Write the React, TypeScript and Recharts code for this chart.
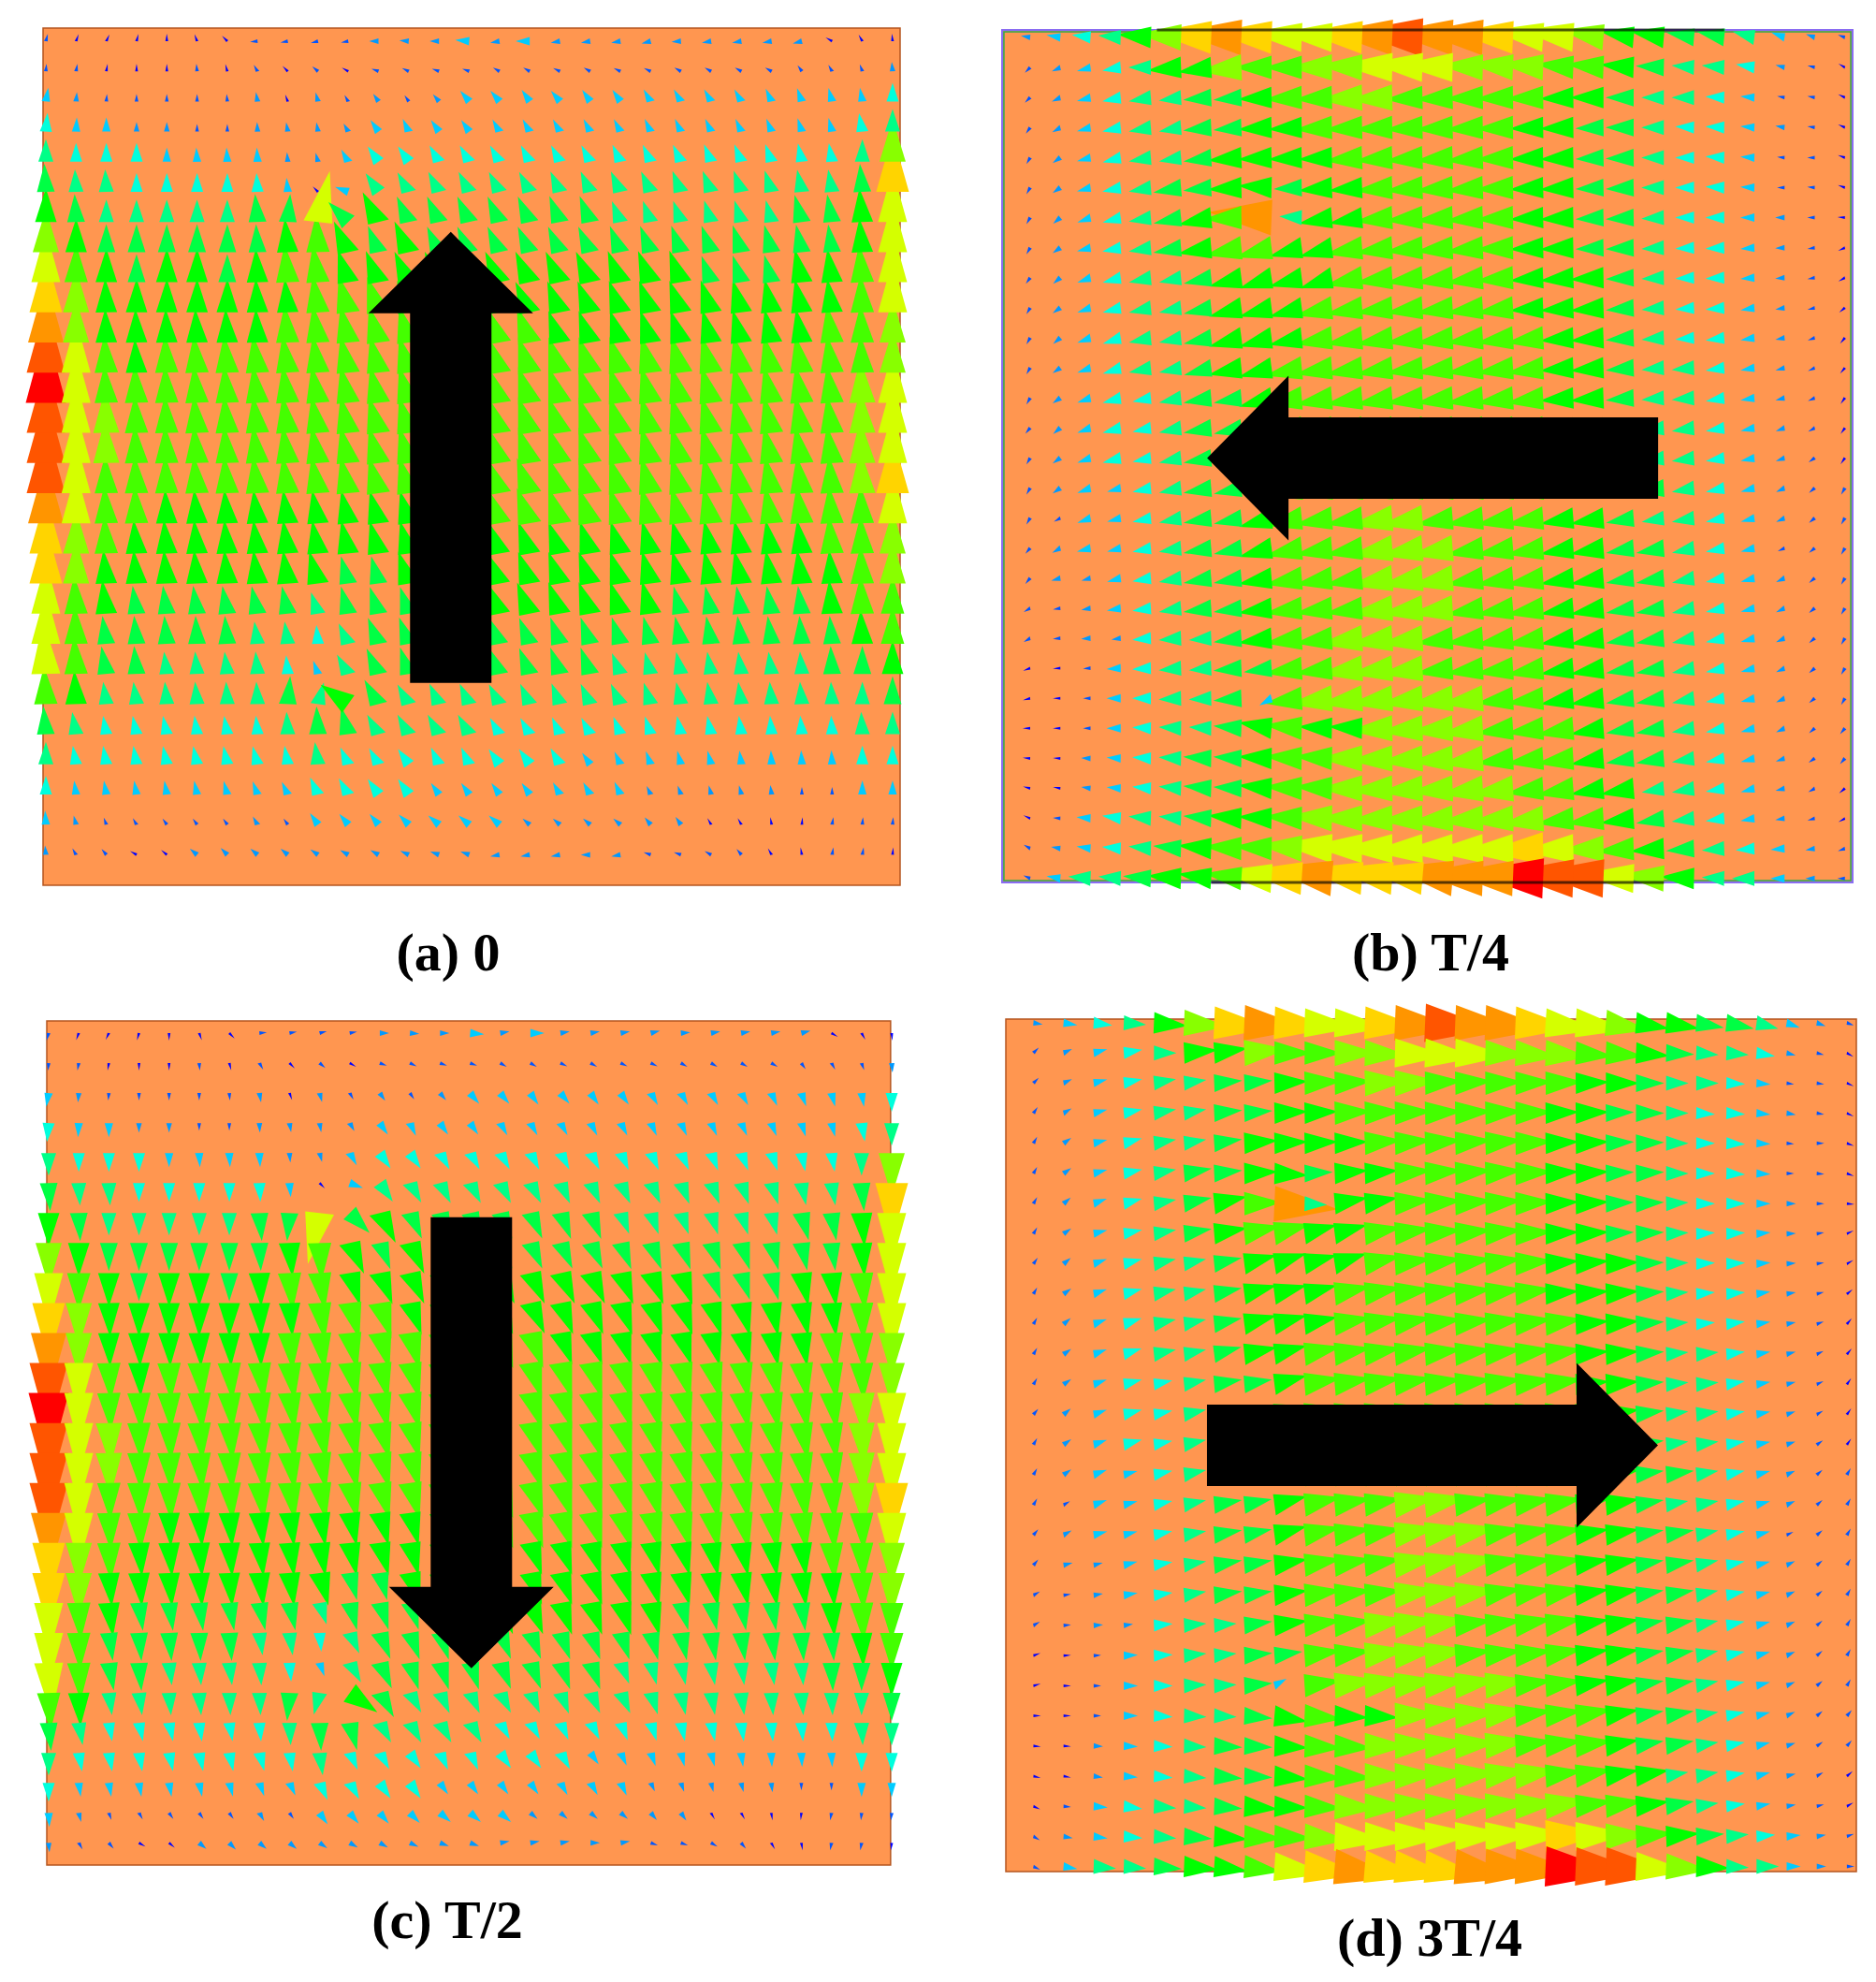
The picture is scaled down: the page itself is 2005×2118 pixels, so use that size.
import { ScatterChart, Scatter, XAxis, YAxis, ReferenceArea } from 'recharts';

// contour band of each arrow, one hex digit per grid cell (0 = blue ... e = red)
// vertical flow panels (a, c): columns 0-14 and columns 15-28
const levelsVerticalLeft = [
  '100000011112223', '110001010101111', '321111120212123', '433221122223333',
  '544433332234444', '655444443035555', '765555566a67666', '976666667876766',
  'a87677678877777', 'b97777777888777', 'c97777778888888', 'da8788888888888',
  'ea8888888888888', 'da9888888888888', 'da9888888888888', 'da8888888888888',
  'ca8877777777777', 'b98777777777777', 'b97777777766777', 'a87666666566666',
  'a86666655456666', 'a86655554356666', '875555556576555', '654444445665555',
  '544444444544444', '433333333444433', '321111121333333', '211002222222222',
];
const levelsVerticalRight = [
  '23222222222000', '11111111111112', '33333333333334', '33333333333345',
  '44444444444459', '5555555555556b', '6666555555667a', '6666666666667a',
  '7777777666778a', '7777777777778a', '88777777777889', '88888888888889',
  '8888888888889a', '8888888888889a', '8888888888889a', '8888888888889b',
  '8888888888888a', '77777777777889', '77777777777789', '77777766666788',
  '66666666666678', '66665555555667', '55555555555556', '44444444444455',
  '44433333333344', '33333222221133', '32222220000111', '22222111100110',
];

// horizontal flow panels (b, d): columns 0-14 and columns 15-27
const levelsHorizontalLeft = [
  '234579bcbaabcdc', '123457798899aaa', '123455667889988', '123455667788888',
  '123455677778888', '123456677677888', '12345678c577888', '123456788778888',
  '123455677778888', '123455677788888', '123455677788888', '123455677888888',
  '123445667888888', '123445667888888', '123445666888888', '123345666888888',
  '113345667888998', '123345667888999', '122345667888999', '112345667888999',
  '112245567889998', '001345566889998', '001345563899999', '001345567877999',
  '002345667889999', '002345667889999', '013455677899999', '1234567889aaaaa',
  '13556778abcbbbc',
];
const levelsHorizontalRight = [
  'cbaa977665321', '9998876554210', '8887765543110', '8877665443210',
  '8877665443110', '8877665443110', '8877665443210', '8877665443210',
  '8877765443210', '8877765443210', '8887765443210', '8887765543210',
  '8887765543210', '8887765543210', '8887765543210', '8887766543211',
  '8887765543211', '8887766543111', '8887766543211', '8887766543211',
  '8887766543211', '8887766543211', '9887766543211', '9888766543211',
  '9888766543211', '9988775543210', '9998876543210', 'aaba987654321',
  'ccedda9755321',
];

// tilt of each arrow in degrees, clockwise, against the main flow direction
const tiltsVertical = [
  [15, 20, 25, 15, 0, -20, -45, -95, -100, -105, -100, -90, -85, -90, -85, -100, -90, -100, -100, -100, -105, -95, -100, -100, -100, -105, -60, -30, -5],
  [5, 10, 10, 0, 0, -5, -15, -30, -45, -50, -60, -70, -65, -70, -70, -60, -60, -65, -60, -65, -65, -60, -60, -60, -60, -35, -30, -20, -5],
  [10, 5, 5, 0, 0, 0, -5, -10, -20, -15, -30, -35, -35, -40, -40, -40, -35, -40, -35, -35, -30, -30, -30, -30, -25, -20, -15, -10, 0],
  [5, 3, 0, 0, 0, 0, 0, -3, -10, -10, -30, -35, -25, -35, -35, -30, -30, -30, -28, -28, -25, -25, -25, -25, -22, -18, -15, -10, 0],
  [0, 0, 0, 0, 0, -3, -3, -3, -5, -15, -30, -35, -35, -30, -30, -30, -28, -28, -28, -25, -25, -25, -22, -22, -20, -12, -10, 0, 0],
  [-3, -3, -3, 0, 0, 0, 0, -3, -5, -45, -70, -35, -30, -28, -28, -28, -28, -25, -25, -25, -25, -22, -22, -20, -18, -12, -10, -5, 0],
  [0, -3, 0, 0, 0, 0, 0, -5, 5, 13, -45, -28, -25, -25, -25, -25, -25, -22, -22, -22, -20, -20, -18, -18, -15, -15, -10, -5, 0],
  [0, 0, 0, 0, 0, 0, 0, -3, -5, -3, -25, -22, -25, -25, -25, -25, -25, -25, -25, -22, -22, -20, -20, -18, -15, -12, -8, -5, 0],
  [0, 0, 0, 0, 0, 0, 0, -3, -5, -8, -18, -22, -25, -25, -25, -25, -25, -25, -25, -22, -22, -20, -20, -18, -15, -12, -8, -5, 0],
  [0, 0, -2, 0, 0, 0, 0, -3, -5, -8, -15, -18, -20, -20, -20, -22, -25, -22, -22, -20, -20, -20, -18, -15, -12, -12, -8, -3, 0],
  [0, 0, -2, -2, -2, -3, -3, -3, -5, -8, -12, -15, -15, -18, -18, -20, -20, -20, -20, -18, -18, -18, -15, -15, -12, -10, -8, -3, 0],
  [0, 0, -3, -3, -3, -5, -5, -7, -8, -8, -12, -13, -15, -15, -15, -18, -18, -18, -18, -17, -15, -15, -15, -12, -12, -10, -8, -3, 0],
  [0, 0, -3, -3, -3, -5, -5, -7, -8, -10, -12, -13, -15, -15, -15, -18, -18, -18, -18, -17, -15, -15, -15, -12, -12, -10, -8, -3, 0],
  [0, 0, -2, -3, -3, -5, -5, -7, -8, -10, -12, -15, -15, -15, -15, -18, -18, -18, -18, -17, -15, -15, -15, -12, -12, -10, -8, -3, 0],
  [0, 0, -2, -3, -3, -5, -5, -7, -8, -10, -12, -15, -15, -15, -15, -18, -18, -18, -18, -17, -15, -15, -15, -12, -12, -10, -8, -3, 0],
  [0, 0, -2, -3, -3, -5, -5, -7, -8, -10, -12, -15, -15, -15, -15, -20, -20, -18, -18, -17, -15, -15, -12, -12, -10, -8, -5, -3, 0],
  [0, 0, -3, -3, -3, -5, -5, -7, -8, -10, -12, -15, -15, -15, -15, -20, -20, -18, -18, -17, -15, -15, -12, -12, -10, -8, -5, -3, 0],
  [0, 0, -3, -5, -5, -5, -5, -7, -8, -10, -12, -15, -15, -18, -18, -20, -20, -20, -18, -17, -15, -15, -12, -12, -10, -8, -5, -3, 0],
  [0, 0, -5, -5, -5, -5, -5, -7, -8, -15, -15, -15, -18, -18, -18, -22, -20, -20, -20, -18, -15, -15, -12, -12, -10, -8, -5, -3, 0],
  [0, -3, -7, -8, -8, -8, -10, -12, -12, -18, -15, -18, -18, -18, -18, -22, -22, -20, -20, -18, -15, -15, -12, -10, -10, -8, -5, -3, 0],
  [0, -2, -8, -5, -5, -3, -5, -8, -8, -5, -25, -22, -20, -18, -18, -22, -22, -20, -20, -18, -15, -12, -10, -8, -8, -5, -5, -3, 0],
  [-3, -3, -10, -5, -7, -5, -7, -5, -5, -20, -30, -25, -18, -18, -18, -22, -22, -20, -20, -22, -15, -12, -10, -8, -8, -5, -3, 0, 0],
  [-3, -3, -8, -8, -5, -5, -3, -3, 5, 15, -55, -30, -30, -25, -25, -28, -25, -22, -25, -25, -18, -12, -10, -8, -5, -5, -3, 0, 0],
  [-5, -10, -10, -12, -12, -8, -10, -5, -3, -3, -15, -30, -30, -30, -30, -30, -30, -25, -28, -22, -18, -12, -12, -8, -5, -5, -3, -3, 0],
  [0, -10, -10, -10, -12, -12, -12, -15, -10, -8, -25, -30, -35, -25, -25, -35, -35, -30, -35, -25, -20, -15, -15, -8, -3, -3, -3, 0, 0],
  [0, -8, -10, -10, -10, -12, -15, -20, -25, -25, -30, -35, -35, -35, -35, -35, -35, -30, -30, -25, -25, -20, -15, -15, -8, 0, 0, 0, 0],
  [-3, -15, -20, -30, -35, -35, -35, -30, -35, -35, -40, -40, -45, -50, -50, -50, -50, -50, -50, -50, -40, -35, -30, -30, -10, 5, 10, 5, 5],
  [-5, -30, -40, -60, -50, -50, -45, -50, -50, -55, -60, -60, -65, -70, -70, -100, -100, -100, -90, -100, -70, -70, -60, -40, -30, -10, 10, 10, 5],
];

const tiltsHorizontal = [
  [10, 10, 8, 5, 5, 5, 5, 5, 5, 5, 5, 5, 5, 5, 5, 5, 5, 8, 8, 10, 10, 10, 10, 12, 15, 20, 20, 20],
  [-45, -25, -15, -10, 0, -5, -8, -5, 0, 0, 0, 3, 3, 5, 3, 3, 5, 5, 5, 5, 5, 3, 5, 5, 10, 15, 15, 30],
  [-45, -25, -15, -12, -10, -8, -5, -5, -3, -3, -3, -3, -3, -3, -3, -2, -2, -2, -2, 0, 0, 0, 0, 3, 5, 10, 10, 25],
  [-55, -30, -15, -12, -10, -10, -6, -5, -3, -3, -3, -3, -3, -3, -3, -3, -2, -2, -2, -2, 0, 0, 3, 3, 5, 10, 10, 25],
  [-60, -35, -15, -15, -10, -10, -8, -5, -3, -3, -3, -5, -5, -5, -5, -5, -3, -3, -3, -3, -2, 0, 0, 3, 3, 5, 0, 20],
  [-60, -35, -15, -12, -10, -10, -6, -3, 3, -3, -5, -5, -5, -5, -5, -5, -3, -3, -3, -3, -3, 0, 0, 3, 3, 0, 5, 20],
  [-60, -40, -20, -15, -10, -12, -12, -2, 5, 3, -10, -10, -6, -5, -5, -5, -3, -3, -3, -3, -3, -3, 0, 0, 0, 0, 0, 5],
  [-60, -35, -15, -12, -10, -10, -10, -12, -15, -15, -15, -10, -8, -6, -6, -6, -3, -3, -3, -3, -3, -3, -3, -3, -5, -3, -10, -25],
  [-55, -40, -20, -15, -12, -12, -12, -15, -18, -15, -18, -12, -8, -8, -8, -8, -5, -5, -5, -3, -3, -3, -3, -3, -5, -5, -10, -30],
  [-60, -35, -20, -15, -12, -12, -12, -15, -15, -15, -12, -10, -8, -8, -8, -8, -8, -5, -5, -5, -5, -5, -5, -5, -10, -10, -15, -40],
  [-60, -40, -20, -18, -12, -12, -12, -15, -15, -12, -10, -10, -10, -8, -8, -8, -8, -8, -5, -5, -5, -5, -5, -8, -10, -12, -20, -50],
  [-60, -35, -20, -18, -12, -12, -15, -12, -15, -12, -10, -10, -10, -8, -8, -8, -8, -8, -5, -5, -5, -5, -5, -8, -10, -15, -25, -50],
  [-60, -35, -20, -15, -12, -12, -10, -10, -15, -10, -10, -10, -10, -8, -8, -8, -8, -8, -5, -5, -5, -5, -5, -10, -10, -15, -25, -55],
  [-50, -40, -20, -15, -12, -12, -10, -12, -15, -10, -10, -10, -10, -8, -8, -8, -8, -8, -8, -8, -8, -8, -8, -10, -12, -20, -30, -55],
  [-60, -35, -20, -15, -12, -12, -10, -12, -15, -10, -10, -10, -10, -8, -8, -8, -8, -8, -8, -8, -8, -8, -8, -10, -12, -20, -35, -55],
  [-60, -35, -20, -15, -12, -12, -10, -12, -15, -12, -10, -10, -10, -8, -8, -8, -8, -8, -8, -8, -8, -8, -10, -12, -15, -25, -40, -60],
  [-60, -30, -20, -15, -12, -12, -10, -12, -15, -12, -10, -10, -10, -10, -10, -10, -10, -10, -10, -10, -10, -10, -10, -12, -15, -25, -40, -60],
  [-50, -30, -15, -15, -12, -10, -10, -12, -15, -12, -10, -10, -10, -10, -10, -10, -10, -10, -10, -10, -10, -10, -12, -12, -15, -25, -40, -60],
  [-50, -15, -15, -15, -10, -10, -10, -10, -10, -10, -10, -10, -10, -10, -10, -10, -10, -10, -10, -10, -10, -10, -12, -12, -15, -25, -40, -60],
  [-30, -10, -10, -10, -8, -10, -8, -8, -8, -8, -8, -8, -8, -8, -8, -10, -10, -10, -10, -10, -10, -10, -12, -12, -15, -25, -40, -60],
  [-30, -5, -5, -8, -5, -5, -5, -8, -8, -8, -8, -8, -8, -8, -8, -8, -10, -10, -10, -10, -10, -10, -12, -12, -15, -25, -40, -60],
  [-20, -3, -3, -3, -3, -5, -5, -5, -8, -8, -8, -8, -8, -8, -8, -8, -8, -10, -10, -10, -10, -10, -12, -12, -15, -25, -40, -60],
  [-15, 0, 0, 0, 0, -3, -3, -5, -30, -8, -8, -8, -8, -8, -8, -8, -8, -8, -10, -10, -10, -10, -12, -12, -15, -25, -40, -60],
  [0, 0, 0, 0, 3, 3, 3, 5, 10, 5, 3, 3, -3, -5, -5, -8, -8, -8, -10, -10, -10, -10, -10, -12, -15, -25, -40, -50],
  [5, 3, 3, 3, 3, 3, 3, 3, 3, 3, 3, 0, -3, -5, -5, -8, -8, -8, -8, -10, -10, -10, -10, -12, -15, -20, -35, -50],
  [15, 10, 8, 5, 5, 5, 5, 3, 5, 3, 3, 0, -3, -5, -5, -8, -8, -8, -10, -10, -10, -10, -10, -10, -15, -15, -30, -40],
  [25, 5, 5, 8, 5, 5, 5, 5, 3, 3, 3, 0, -3, -3, -5, -5, -5, -8, -8, -8, -8, -10, -8, -8, -10, -10, -15, -30],
  [30, 10, 8, 5, 5, 5, 5, 3, 3, 5, 5, 3, 0, -3, -3, -3, -3, -3, -3, -3, -5, -5, -5, -5, -5, -5, -10, -20],
  [25, 10, 5, 5, 5, 5, 8, 8, 8, 8, 10, 10, 10, 10, 10, 5, 5, 5, 5, 5, 5, 5, 3, 3, 0, 0, 0, 0],
];

const BAND_COLORS = ['#0000ff', '#0055ff', '#0099ff', '#00ccff', '#00ffdd', '#00ff88', '#00ff44', '#00ff00', '#44ff00', '#88ff00', '#d4ff00', '#ffd400', '#ff9500', '#ff5500', '#ff0000'];
const BAND_LENGTHS = [8, 8, 10, 15, 20, 24, 30, 36, 40, 46, 56, 62, 68, 74, 80];
const BAND_WIDTHS = [3, 4, 6, 9, 13, 16, 19, 23, 25, 28, 31, 35, 38, 41, 43];

type Cell = { col: number; row: number; level: number; tilt: number };

const buildCells = (left: string[], right: string[], tilts: number[][]): Cell[] => {
  const cells: Cell[] = [];
  left.forEach((part, row) => {
    (part + right[row]).split('').forEach((ch, col) => {
      cells.push({ col, row, level: parseInt(ch, 16), tilt: tilts[row][col] ?? 0 });
    });
  });
  return cells;
};

const verticalCells = buildCells(levelsVerticalLeft, levelsVerticalRight, tiltsVertical);
const horizontalCells = buildCells(levelsHorizontalLeft, levelsHorizontalRight, tiltsHorizontal);

const PAD = 50;

const panels = [
  {
    caption: '(a) 0', captionX: 479, captionY: 1037, flow: 0, cells: verticalCells,
    frame: [46, 30, 962, 946], origin: [49, 44], step: [32.32, 32.2],
    order: (p: Cell, q: Cell) => q.row - p.row, arrowTail: [13.39, 21.3],
  },
  {
    caption: '(b) T/4', captionX: 1529, captionY: 1037, flow: -90, cells: horizontalCells,
    frame: [1071, 32, 1980, 943], origin: [1101, 40], step: [32.25, 32.1],
    order: (p: Cell, q: Cell) => q.col - p.col, arrowTail: [20.81, 14.0],
  },
  {
    caption: '(c) T/2', captionX: 478, captionY: 2071, flow: 180, cells: verticalCells,
    frame: [50, 1091, 953, 1993], origin: [52, 1104], step: [32.22, 32.05],
    order: (p: Cell, q: Cell) => p.row - q.row, arrowTail: [14.04, 6.14],
  },
  {
    caption: '(d) 3T/4', captionX: 1528, captionY: 2090, flow: 90, cells: horizontalCells,
    frame: [1075, 1089, 1984, 2000], origin: [1104.5, 1093], step: [32.2, 32.2],
    order: (p: Cell, q: Cell) => p.col - q.col, arrowTail: [5.76, 14.02],
  },
];

const Triangle = (props: any) => {
  const { cx, cy, payload, flow } = props;
  const len = BAND_LENGTHS[payload.level];
  const half = BAND_WIDTHS[payload.level] / 2;
  const a = ((flow + payload.tilt) * Math.PI) / 180;
  // the bases in the picture turn about half as far as the tips when the tilt is small
  const baseTilt = Math.abs(payload.tilt) <= 30 ? payload.tilt / 2 : payload.tilt;
  const b = ((flow + baseTilt) * Math.PI) / 180;
  const pts = [
    [cx + Math.sin(a) * len, cy - Math.cos(a) * len],
    [cx + Math.cos(b) * half, cy + Math.sin(b) * half],
    [cx - Math.cos(b) * half, cy - Math.sin(b) * half],
  ];
  return <polygon points={pts.map((p) => p.join(',')).join(' ')} fill={BAND_COLORS[payload.level]} />;
};

// the black arrow showing the main flow direction, drawn from its tail
const BigArrow = (props: any) => {
  const { cx, cy, flow } = props;
  const pts = [[0, -482], [88, -395], [43.5, -395], [43.5, 0], [-43.5, 0], [-43.5, -395], [-88, -395]];
  return (
    <polygon
      points={pts.map((p) => `${cx + p[0]},${cy + p[1]}`).join(' ')}
      transform={`rotate(${flow} ${cx} ${cy})`}
      fill="#000"
    />
  );
};

const Panel = ({ p, index }: { p: (typeof panels)[number]; index: number }) => {
  const [left, top, right, bottom] = p.frame;
  const xDomain = [(left - p.origin[0]) / p.step[0], (right - p.origin[0]) / p.step[0]];
  const yDomain = [(top - p.origin[1]) / p.step[1], (bottom - p.origin[1]) / p.step[1]];
  const data = [...p.cells].sort(p.order);
  const isB = index === 1;
  const inset = 0.06;
  return (
    <div style={{ position: 'absolute', left: left - PAD, top: top - PAD }}>
      <ScatterChart
        width={right - left + PAD * 2}
        height={bottom - top + PAD * 2}
        margin={{ top: PAD, right: PAD, bottom: PAD, left: PAD }}
      >
        <XAxis type="number" dataKey="col" domain={xDomain} hide />
        <YAxis type="number" dataKey="row" domain={yDomain} reversed hide />
        <ReferenceArea
          x1={xDomain[0]}
          x2={xDomain[1]}
          y1={yDomain[0]}
          y2={yDomain[1]}
          fill="#ff9650"
          fillOpacity={1}
          stroke={isB ? '#8a6cf2' : '#b5561f'}
          strokeWidth={isB ? 2 : 1.5}
        />
        {isB && (
          <ReferenceArea
            x1={xDomain[0] + inset}
            x2={xDomain[1] - inset}
            y1={yDomain[0] + inset}
            y2={yDomain[1] - inset}
            fill="none"
            stroke="#2fa84f"
            strokeWidth={1.5}
          />
        )}
        <Scatter
          data={data}
          isAnimationActive={false}
          shape={(s: any) => <Triangle {...s} flow={p.flow} />}
        />
        <Scatter
          data={[{ col: p.arrowTail[0], row: p.arrowTail[1] }]}
          isAnimationActive={false}
          shape={(s: any) => <BigArrow {...s} flow={p.flow} />}
        />
        {isB && (
          <Scatter
            data={[{ col: 4.2, row: yDomain[0] }, { col: 23, row: yDomain[0] }]}
            isAnimationActive={false}
            line={{ stroke: '#000', strokeOpacity: 0.65, strokeWidth: 3 }}
            shape={() => <g />}
          />
        )}
        {isB && (
          <Scatter
            data={[{ col: 6, row: yDomain[1] }, { col: 21, row: yDomain[1] }]}
            isAnimationActive={false}
            line={{ stroke: '#000', strokeOpacity: 0.65, strokeWidth: 3 }}
            shape={() => <g />}
          />
        )}
      </ScatterChart>
      <div
        style={{
          position: 'absolute',
          left: p.captionX - left + PAD - 200,
          top: p.captionY - top + PAD - 52,
          width: 400,
          textAlign: 'center',
          font: 'bold 58px "Liberation Serif"',
          lineHeight: '65px',
          color: '#000',
        }}
      >
        {p.caption}
      </div>
    </div>
  );
};

export default function App() {
  return (
    <div style={{ position: 'absolute', left: 0, top: 0, width: 2005, height: 2118, background: '#fff', overflow: 'hidden' }}>
      {panels.map((p, i) => (
        <Panel key={p.caption} p={p} index={i} />
      ))}
    </div>
  );
}
